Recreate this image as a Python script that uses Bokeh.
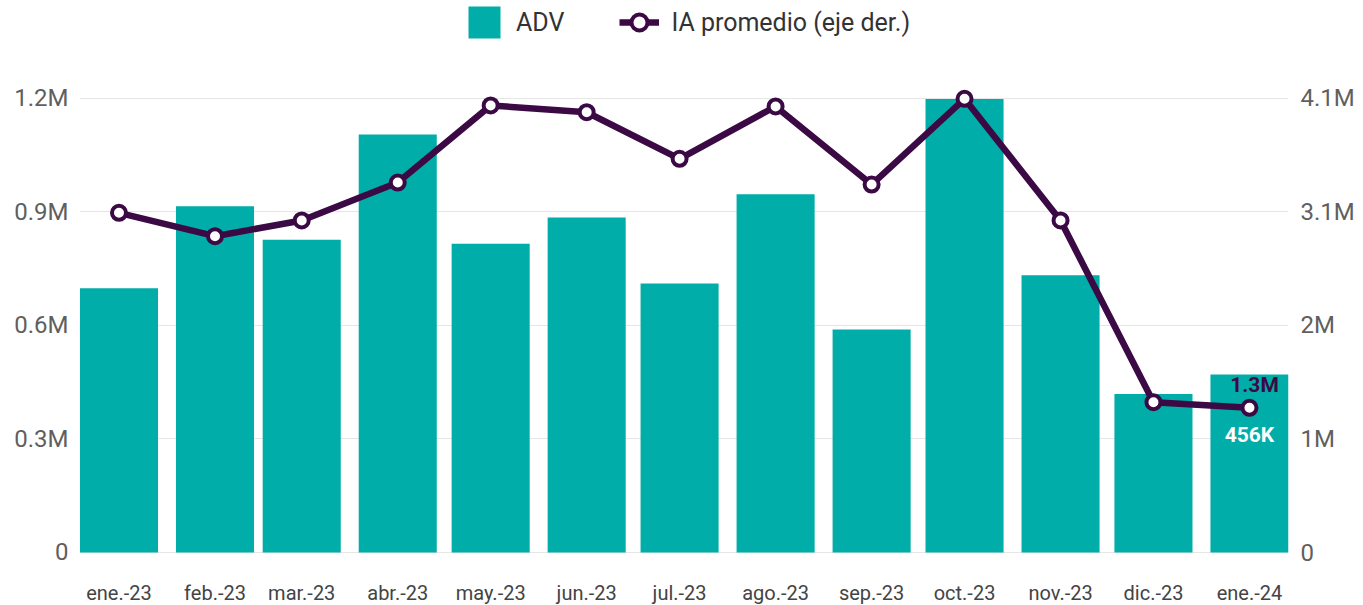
from datetime import datetime, timedelta
from bokeh.plotting import figure
from bokeh.models import (Range1d, LinearAxis, FixedTicker, CustomJSTickFormatter,
                          Legend, LegendItem, ColumnDataSource)
from bokeh.core.properties import value
from bokeh.embed import file_html
from bokeh.resources import INLINE

# ---------------- data ----------------
months = [datetime(2023, m, 1) for m in range(1, 13)] + [datetime(2024, 1, 1)]
month_labels = ["ene.-23", "feb.-23", "mar.-23", "abr.-23", "may.-23", "jun.-23",
                "jul.-23", "ago.-23", "sep.-23", "oct.-23", "nov.-23", "dic.-23", "ene.-24"]
adv = [677000, 887000, 801000, 1071000, 791000, 858000, 689000,
       918000, 571000, 1162000, 710000, 406000, 456000]
ia_promedio = [3063000, 2852000, 2994000, 3336000, 4031000, 3970000, 3550000,
               4022000, 3318000, 4091000, 2994000, 1355000, 1305000]

left_ticks = [0, 290770, 581540, 872300, 1163060]
left_tick_labels = ["0", "0.3M", "0.6M", "0.9M", "1.2M"]
right_ticks = [0, 1023500, 2047000, 3070000, 4094000]
right_tick_labels = ["0", "1M", "2M", "3.1M", "4.1M"]

TEAL = "#00ada8"
PURPLE = "#3b0944"
FONT = "Roboto"

src = ColumnDataSource(dict(x=months, adv=adv, ia=ia_promedio,
                            base=[0] * len(months), lab=month_labels))

# frame spans the full height; value 0 sits 53px above the bottom edge
p = figure(width=1363, height=605, x_axis_type="datetime",
           output_backend="svg", toolbar_location=None,
           x_range=Range1d(months[0] - timedelta(days=12.75), months[-1] + timedelta(days=12.6)),
           y_range=Range1d(-135780, 1414110),
           min_border_left=79, min_border_right=75, min_border_top=0, min_border_bottom=0)
p.extra_y_ranges = {"right": Range1d(-477910, 4977500)}
p.outline_line_color = None
p.background_fill_color = "white"
p.border_fill_color = "white"
p.xaxis.visible = False

bars = p.vbar(x="x", top="adv", bottom=0, width=25.2 * 86400000, source=src,
              fill_color=TEAL, line_color=None)
line = p.line(x="x", y="ia", source=src, y_range_name="right",
              line_color=PURPLE, line_width=6.5)
pts = p.scatter(x="x", y="ia", source=src, y_range_name="right", size=14,
                fill_color="white", line_color=PURPLE, line_width=4)

# month labels (category axis text) below the zero line
p.text(x="x", y="base", text="lab", source=src, text_align="center", text_baseline="middle",
       y_offset=41, text_font=value(FONT), text_font_size="20px", text_color="#444444")

# data labels on last point
p.text(x=[months[-1]], y=[ia_promedio[-1]], text=[f"{ia_promedio[-1] / 1e6:.1f}M"],
       y_range_name="right", text_align="center", text_baseline="middle",
       x_offset=5, y_offset=-23, text_font=value(FONT), text_font_style="bold",
       text_font_size="21px", text_color=PURPLE)
p.text(x=[months[-1]], y=[ia_promedio[-1]], text=[f"{round(adv[-1] / 1e3)}K"],
       y_range_name="right", text_align="center", text_baseline="middle",
       x_offset=0, y_offset=27, text_font=value(FONT), text_font_style="bold",
       text_font_size="21px", text_color="white")

fmt_code = """
let best = 0;
for (let i = 0; i < tvals.length; i++) {
  if (Math.abs(tvals[i] - tick) < Math.abs(tvals[best] - tick)) best = i;
}
return tlabels[best];
"""

# left y axis
ya = p.yaxis[0]
ya.ticker = FixedTicker(ticks=left_ticks)
ya.formatter = CustomJSTickFormatter(args=dict(tvals=left_ticks, tlabels=left_tick_labels), code=fmt_code)
ya.axis_line_color = None
ya.major_tick_line_color = None
ya.minor_tick_line_color = None
ya.major_tick_in = 0
ya.major_tick_out = 0
ya.major_label_standoff = 11
ya.major_label_text_font = FONT
ya.major_label_text_font_size = "24px"
ya.major_label_text_color = "#5f5f5f"

# right y axis
ra = LinearAxis(y_range_name="right", ticker=FixedTicker(ticks=right_ticks),
                formatter=CustomJSTickFormatter(args=dict(tvals=right_ticks, tlabels=right_tick_labels), code=fmt_code))
ra.axis_line_color = None
ra.major_tick_line_color = None
ra.minor_tick_line_color = None
ra.major_tick_in = 0
ra.major_tick_out = 0
ra.major_label_standoff = 12
ra.major_label_text_font = FONT
ra.major_label_text_font_size = "24px"
ra.major_label_text_color = "#5f5f5f"
p.add_layout(ra, "right")

p.xgrid.grid_line_color = None
p.ygrid.ticker = FixedTicker(ticks=left_ticks)
p.ygrid.grid_line_color = "#e6e6e6"
p.ygrid.grid_line_width = 1

legend = Legend(items=[LegendItem(label="ADV", renderers=[bars]),
                       LegendItem(label="IA promedio (eje der.)", renderers=[line, pts])],
                location=(383, 561), orientation="horizontal",
                glyph_width=40, glyph_height=40, label_standoff=12, spacing=55,
                label_text_font=FONT, label_text_font_size="25px", label_text_color="#333333",
                border_line_alpha=0, background_fill_alpha=0, padding=2, margin=0)
p.add_layout(legend)

open("out.html", "w").write(file_html(p, INLINE))
